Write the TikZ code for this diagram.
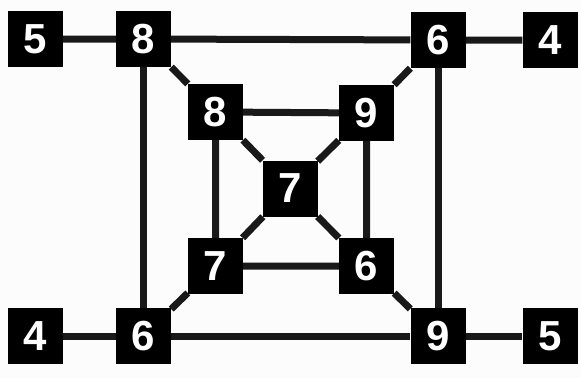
\documentclass[tikz,border=0pt]{standalone}
\usepackage{fontspec}
\setmainfont{Liberation Sans}
\usetikzlibrary{backgrounds}

\begin{document}
\begin{tikzpicture}[x=1pt, y=-1pt,
    numbox/.style={fill=black, text=white, minimum width=55pt, minimum height=56pt,
      inner sep=0pt, font=\fontsize{42}{42}\selectfont\bfseries},
    wire/.style={line width=7pt, black!90}]
  \definecolor{paper}{RGB}{252, 252, 252}
  \useasboundingbox (0, 0) rectangle (581, 378);

  % Outer squares
  \node[numbox] (tlfive) at (35.5, 39) {5};
  \node[numbox] (tleight) at (143.5, 39) {8};
  \node[numbox] (trsix) at (438, 40) {6};
  \node[numbox] (trfour) at (550, 40) {4};
  \node[numbox] (blfour) at (35.5, 336) {4};
  \node[numbox] (blsix) at (143.5, 336) {6};
  \node[numbox] (brnine) at (438, 336) {9};
  \node[numbox] (brfive) at (550, 336) {5};

  % Inner squares
  \node[numbox] (ineight) at (215.5, 112) {8};
  \node[numbox] (innine) at (366.5, 113) {9};
  \node[numbox] (inseven) at (215.5, 266) {7};
  \node[numbox] (insix) at (366.5, 266) {6};
  \node[numbox] (mid) at (290, 188.5) {7};

  \begin{pgfonlayer}{background}
    \fill[paper] (0, 0) rectangle (581, 378);
    % Outer frame
    \draw[wire] (tlfive) -- (tleight) -- (trsix) -- (trfour);
    \draw[wire] (blfour) -- (blsix) -- (brnine) -- (brfive);
    \draw[wire] (tleight) -- (blsix);
    \draw[wire] (trsix) -- (brnine);
    % Diagonals
    \draw[wire] (tleight) -- (ineight) -- (mid) -- (insix) -- (brnine);
    \draw[wire] (trsix) -- (innine) -- (mid) -- (inseven) -- (blsix);
    % Inner frame
    \draw[wire] (ineight) -- (innine) -- (insix) -- (inseven) -- (ineight);
  \end{pgfonlayer}
\end{tikzpicture}
\end{document}
